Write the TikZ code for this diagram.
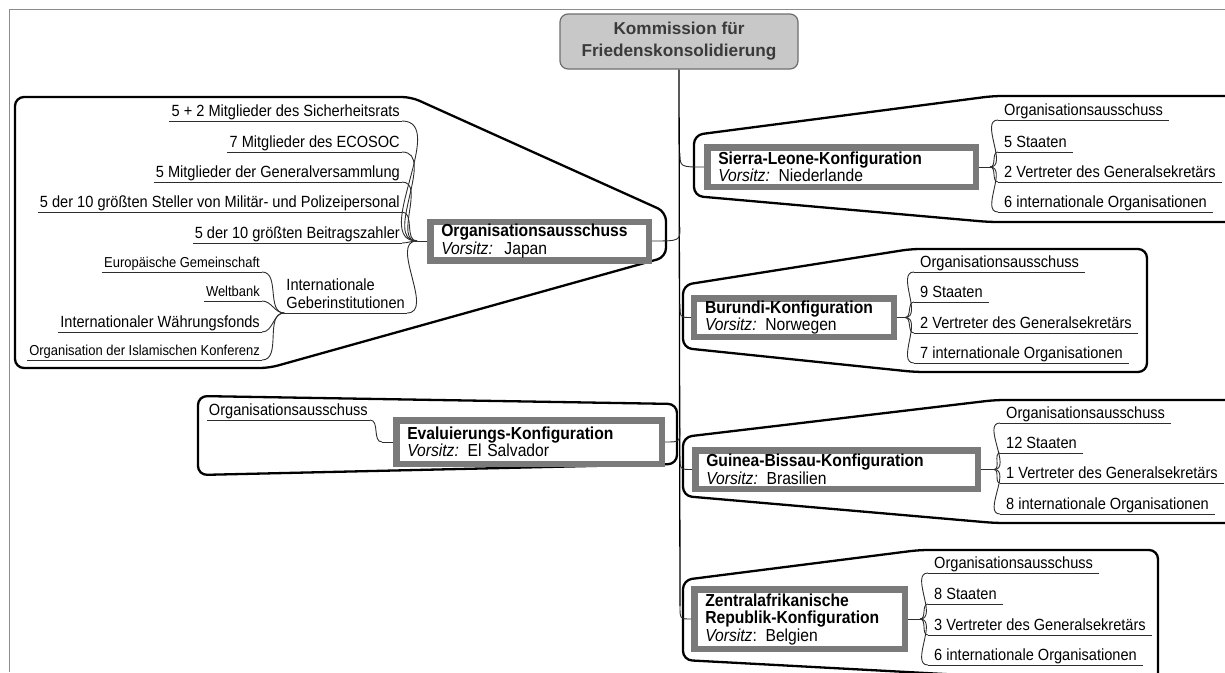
\documentclass[tikz,border=0pt]{standalone}
\usepackage{fontspec}
\setmainfont{Liberation Sans}[FakeStretch=0.9]
\newfontfamily\rootfont{Liberation Sans}
\definecolor{boxgray}{RGB}{122,122,122}
\definecolor{rootfill}{RGB}{200,200,200}
\definecolor{rootdraw}{RGB}{110,110,110}
\definecolor{roottext}{RGB}{58,58,58}
\definecolor{framegray}{RGB}{140,140,140}
\definecolor{linegray}{RGB}{45,45,45}
\usetikzlibrary{positioning}

\begin{document}
\begin{tikzpicture}[x=1pt,y=-1pt,
  ulitem/.style={font=\fontsize{16.2}{18}\selectfont,inner ysep=1pt,text depth=3.2pt,
    append after command={(\tikzlastnode.south west) edge[line width=0.9pt,draw=linegray] (\tikzlastnode.south east)}},
  itemL/.style={ulitem,anchor=south east,inner xsep=2pt},
  itemR/.style={ulitem,anchor=south west,inner xsep=6pt},
  smallitem/.style={font=\fontsize{14.4}{16}\selectfont},
  bigitem/.style={},
  mainbox/.style={draw=boxgray,line width=6.5pt,fill=white,outer sep=3.25pt,
    inner xsep=11pt,inner ysep=2pt,align=left,font=\fontsize{17.4}{17.5}\selectfont},
  rootbox/.style={draw=rootdraw,fill=rootfill,line width=1.2pt,rounded corners=8pt,
    minimum width=238pt,minimum height=55pt,align=center,text=roottext,
    font=\rootfont\fontsize{17.2}{22}\selectfont\bfseries},
  conn/.style={line width=0.9pt,draw=linegray},
  trunk/.style={line width=1.3pt,draw=black},
  outline/.style={line width=2.3pt,rounded corners=9pt}]

\useasboundingbox (0,0) rectangle (1225,672);
\draw[framegray,line width=1pt] (9,672) -- (9,9) -- (1225,9);

% group outlines
\draw[outline] (15,97) -- (411,97) -- (666,212) -- (666,257) -- (269,368) -- (15,368) -- cycle;
\draw[outline] (198,396) -- (677,404) -- (677,464) -- (198,475) -- cycle;
\draw[outline] (1240,96) -- (993,96) -- (694,135) -- (694,196) -- (989,222) -- (1240,222);
\draw[outline] (683,285) -- (911,249) -- (1147,249) -- (1147,372) -- (915,372) -- (683,348) -- cycle;
\draw[outline] (1240,400) -- (995,400) -- (683,437) -- (683,496) -- (995,523) -- (1240,523);
\draw[outline] (1000,677) -- (683,660) -- (683,580) -- (919,550) -- (1158,550) -- (1158,700);

% central topic and main topics
\node[rootbox] (root) at (679,41.5) {Kommission für\\Friedenskonsolidierung};

\node[mainbox,text width=196.5pt,minimum height=38.5pt] (org) at (539.5,241)
  {\textbf{Organisationsausschuss}\\\textit{Vorsitz:}\ \ Japan};
\node[mainbox,text width=243.5pt,minimum height=43.5pt] (eval) at (529,442)
  {\textbf{Evaluierungs-Konfiguration}\\\textit{Vorsitz:} El Salvador};
\node[mainbox,text width=246.5pt,minimum height=39.5pt] (sier) at (841.5,167)
  {\textbf{Sierra-Leone-Konfiguration}\\\textit{Vorsitz:} Niederlande};
\node[mainbox,text width=178pt,minimum height=38.5pt] (bur) at (794,317.5)
  {\mbox{\textbf{Burundi-Konfiguration}}\\\textit{Vorsitz:} Norwegen};
\node[mainbox,text width=260.5pt,minimum height=38.5pt] (gui) at (836.5,469.5)
  {\textbf{Guinea-Bissau-Konfiguration}\\\textit{Vorsitz:} Brasilien};
\node[mainbox,text width=188.5pt,minimum height=59.5pt] (zen) at (799.5,619)
  {\textbf{Zentralafrikanische}\\\mbox{\textbf{Republik-Konfiguration}}\\\textit{Vorsitz}: Belgien};

% trunk
\coordinate (tS) at (680,153);
\coordinate (tO) at (680,227);
\coordinate (tB) at (680,304);
\coordinate (tE) at (680,428);
\coordinate (tG) at (680,456);
\coordinate (tZ) at (680,606);
\draw[trunk] (root.south) -- (tZ);
\draw[conn] (tS) .. controls (680,167) .. (sier.west);
\draw[conn] (tO) .. controls (680,241) .. (org.east);
\draw[conn] (tB) .. controls (680,317.5) .. (bur.west);
\draw[conn] (tE) .. controls (680,442) .. (eval.east);
\draw[conn] (tG) .. controls (680,469.5) .. (gui.west);
\draw[conn] (tZ) .. controls (680,619) .. (zen.west);

% junctions
\coordinate (orgJ) at (417,241);
\coordinate (eJ) at (382,442);
\coordinate (sJ) at (990,167);
\coordinate (bJ) at (905,317.5);
\coordinate (gJ) at (994,469.5);
\coordinate (zJ) at (920,619);
\draw[conn] (org.west) -- (orgJ);
\draw[conn] (eval.west) -- (eJ);
\draw[conn] (sier.east) -- (sJ);
\draw[conn] (bur.east) -- (bJ);
\draw[conn] (gui.east) -- (gJ);
\draw[conn] (zen.east) -- (zJ);

% Organisationsausschuss members
\foreach \t/\y [count=\i] in {5 + 2 Mitglieder des Sicherheitsrats/121,
    7 Mitglieder des ECOSOC/152, 5 Mitglieder der Generalversammlung/182,
    5 der 10 größten Steller von Militär- und Polizeipersonal/212,
    5 der 10 größten Beitragszahler/243}
  \node[itemL] (o\i) at (402,\y) {\t};
\node[itemL,align=left] (igb) at (407,313) {Internationale\\Geberinstitutionen};
\foreach \t/\y/\s [count=\i] in {Europäische Gemeinschaft/272/smallitem,
    Weltbank/301/smallitem, Internationaler Währungsfonds/332/bigitem,
    Organisation der Islamischen Konferenz/360/smallitem}
  \node[itemL,\s] (d\i) at (262,\y) {\t};
\foreach \i in {1,...,5}
  \draw[conn] (o\i.south east) to[out=0,in=180] (orgJ);
\draw[conn] (igb.south east) to[out=0,in=180] (orgJ);
\foreach \i in {1,...,4}
  \draw[conn] (d\i.south east) to[out=0,in=180] (igb.south west);

% Evaluierungs-Konfiguration
\node[itemL] (e1) at (370,420) {Organisationsausschuss};
\draw[conn] (e1.south east) to[out=0,in=180] (eJ);

% country configurations
\foreach \t/\y [count=\i] in {Organisationsausschuss/120, 5 Staaten/152,
    2 Vertreter des Generalsekretärs/182, 6 internationale Organisationen/212}
  \node[itemR] (s\i) at (998,\y) {\t};
\foreach \t/\y [count=\i] in {Organisationsausschuss/272, 9 Staaten/302,
    2 Vertreter des Generalsekretärs/333, 7 internationale Organisationen/363}
  \node[itemR] (b\i) at (914,\y) {\t};
\foreach \t/\y [count=\i] in {Organisationsausschuss/423, 12 Staaten/453,
    1 Vertreter des Generalsekretärs/483, 8 internationale Organisationen/514}
  \node[itemR] (g\i) at (1000,\y) {\t};
\foreach \t/\y [count=\i] in {Organisationsausschuss/573, 8 Staaten/604,
    3 Vertreter des Generalsekretärs/635, 6 internationale Organisationen/665}
  \node[itemR] (z\i) at (928,\y) {\t};
\foreach \i in {1,...,4} {
  \draw[conn] (sJ) to[out=0,in=180] (s\i.south west);
  \draw[conn] (bJ) to[out=0,in=180] (b\i.south west);
  \draw[conn] (gJ) to[out=0,in=180] (g\i.south west);
  \draw[conn] (zJ) to[out=0,in=180] (z\i.south west);
}
\end{tikzpicture}
\end{document}
